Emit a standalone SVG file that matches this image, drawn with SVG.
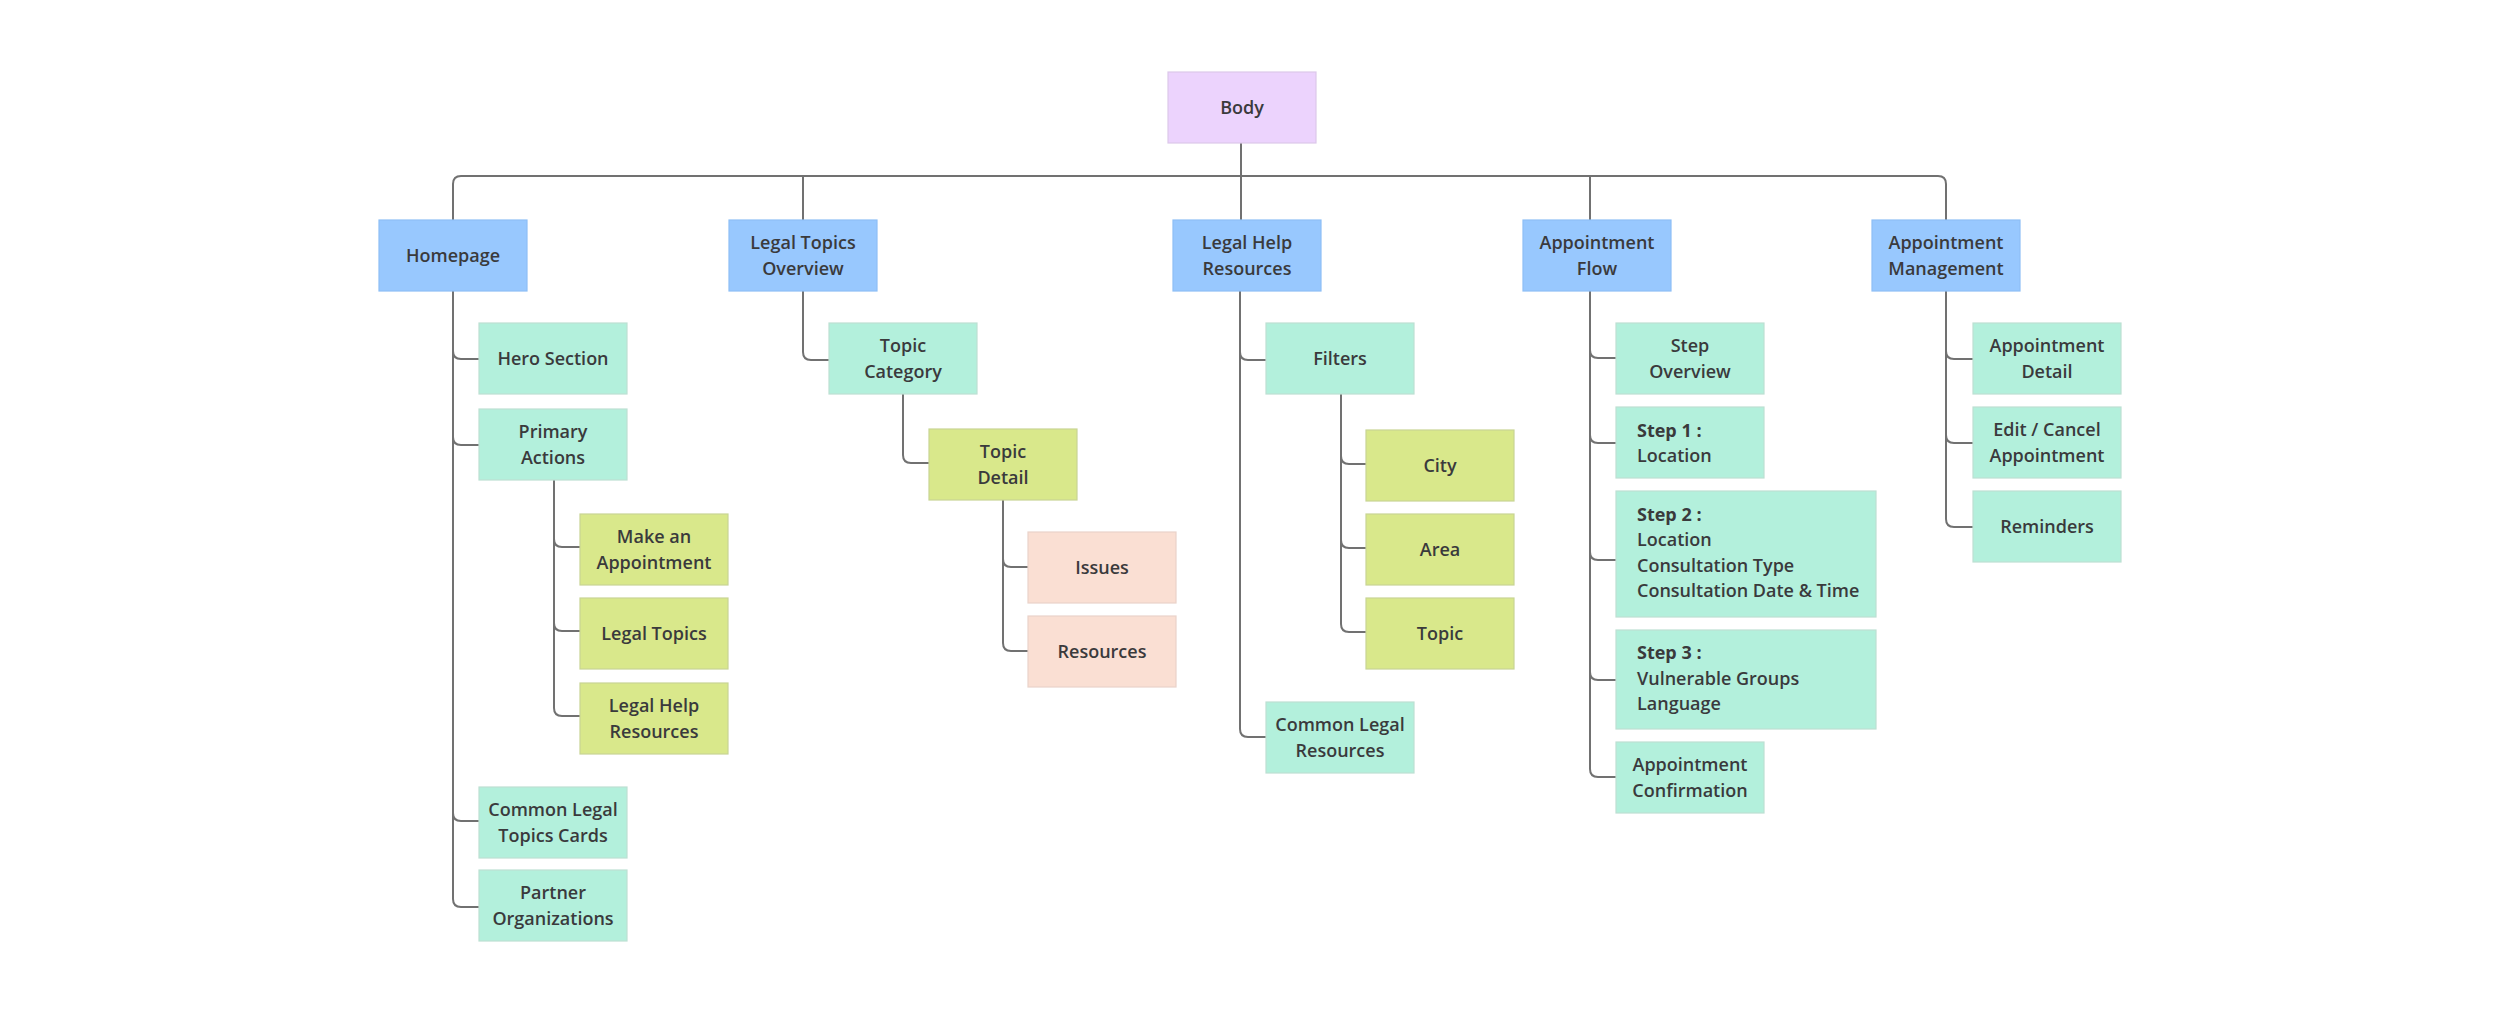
<svg xmlns="http://www.w3.org/2000/svg" width="2500" height="1014" viewBox="0 0 2500 1014">
<style>
  text { font-family: "Open Sans", "Liberation Sans", sans-serif; font-size: 18px; font-weight: 600; fill: #3a3a3c; }
  .c { text-anchor: middle; }
  .b { font-weight: 700; }
  .root { fill: #ecd3fd; stroke: #dcc8ea; stroke-width: 1.2; }
  .l1 { fill: #98c8fe; stroke: #8ebff5; stroke-width: 1.2; }
  .l2 { fill: #b3f0dc; stroke: #bddfd2; stroke-width: 1.2; }
  .l3 { fill: #d9e88b; stroke: #c8d494; stroke-width: 1.2; }
  .l4 { fill: #fadfd3; stroke: #e9d3ca; stroke-width: 1.2; }
  .conn path { fill: none; stroke: #717171; stroke-width: 2; }
</style>
<rect width="2500" height="1014" fill="#ffffff"/>

<g id="connectors" class="conn">
  <path d="M453,220 V184 Q453,176 461,176 H1938 Q1946,176 1946,184 V220"/>
  <path d="M1241,143 V220"/>
  <path d="M803,176 V220"/>
  <path d="M1590,176 V220"/>
  <path d="M453,291 V351 Q453,359 461,359 H479"/>
  <path d="M453,291 V437 Q453,445 461,445 H479"/>
  <path d="M453,291 V813 Q453,821 461,821 H479"/>
  <path d="M453,291 V899 Q453,907 461,907 H479"/>
  <path d="M554,480 V539 Q554,547 562,547 H580"/>
  <path d="M554,480 V623 Q554,631 562,631 H580"/>
  <path d="M554,480 V708 Q554,716 562,716 H580"/>
  <path d="M803,291 V352 Q803,360 811,360 H829"/>
  <path d="M903,394 V455 Q903,463 911,463 H929"/>
  <path d="M1003,500 V559 Q1003,567 1011,567 H1028"/>
  <path d="M1003,500 V643 Q1003,651 1011,651 H1028"/>
  <path d="M1240,291 V352 Q1240,360 1248,360 H1266"/>
  <path d="M1240,291 V729 Q1240,737 1248,737 H1266"/>
  <path d="M1341,394 V456 Q1341,464 1349,464 H1366"/>
  <path d="M1341,394 V540 Q1341,548 1349,548 H1366"/>
  <path d="M1341,394 V624 Q1341,632 1349,632 H1366"/>
  <path d="M1590,291 V350 Q1590,358 1598,358 H1616"/>
  <path d="M1590,291 V435 Q1590,443 1598,443 H1616"/>
  <path d="M1590,291 V552 Q1590,560 1598,560 H1616"/>
  <path d="M1590,291 V672 Q1590,680 1598,680 H1616"/>
  <path d="M1590,291 V769 Q1590,777 1598,777 H1616"/>
  <path d="M1946,291 V351 Q1946,359 1954,359 H1973"/>
  <path d="M1946,291 V435 Q1946,443 1954,443 H1973"/>
  <path d="M1946,291 V519 Q1946,527 1954,527 H1973"/>
</g>

<g id="body"><rect class="root" x="1168" y="72" width="148" height="71"/><text class="c" x="1242" y="114">Body</text></g>

<g id="homepage"><rect class="l1" x="379" y="220" width="148" height="71"/><text class="c" x="453" y="262">Homepage</text></g>
<g id="legal-topics-overview"><rect class="l1" x="729" y="220" width="148" height="71"/><text class="c" x="803" y="249.3">Legal Topics</text><text class="c" x="803" y="274.8">Overview</text></g>
<g id="legal-help-resources"><rect class="l1" x="1173" y="220" width="148" height="71"/><text class="c" x="1247" y="249.3">Legal Help</text><text class="c" x="1247" y="274.8">Resources</text></g>
<g id="appointment-flow"><rect class="l1" x="1523" y="220" width="148" height="71"/><text class="c" x="1597" y="249.3">Appointment</text><text class="c" x="1597" y="274.8">Flow</text></g>
<g id="appointment-management"><rect class="l1" x="1872" y="220" width="148" height="71"/><text class="c" x="1946" y="249.3">Appointment</text><text class="c" x="1946" y="274.8">Management</text></g>

<g id="hero-section"><rect class="l2" x="479" y="323" width="148" height="71"/><text class="c" x="553" y="365">Hero Section</text></g>
<g id="primary-actions"><rect class="l2" x="479" y="409" width="148" height="71"/><text class="c" x="553" y="438.3">Primary</text><text class="c" x="553" y="463.8">Actions</text></g>
<g id="make-appointment"><rect class="l3" x="580" y="514" width="148" height="71"/><text class="c" x="654" y="543.3">Make an</text><text class="c" x="654" y="568.8">Appointment</text></g>
<g id="hp-legal-topics"><rect class="l3" x="580" y="598" width="148" height="71"/><text class="c" x="654" y="640">Legal Topics</text></g>
<g id="hp-legal-help"><rect class="l3" x="580" y="683" width="148" height="71"/><text class="c" x="654" y="712.3">Legal Help</text><text class="c" x="654" y="737.8">Resources</text></g>
<g id="common-legal-topics-cards"><rect class="l2" x="479" y="787" width="148" height="71"/><text class="c" x="553" y="816.3">Common Legal</text><text class="c" x="553" y="841.8">Topics Cards</text></g>
<g id="partner-organizations"><rect class="l2" x="479" y="870" width="148" height="71"/><text class="c" x="553" y="899.3">Partner</text><text class="c" x="553" y="924.8">Organizations</text></g>

<g id="topic-category"><rect class="l2" x="829" y="323" width="148" height="71"/><text class="c" x="903" y="352.3">Topic</text><text class="c" x="903" y="377.8">Category</text></g>
<g id="topic-detail"><rect class="l3" x="929" y="429" width="148" height="71"/><text class="c" x="1003" y="458.3">Topic</text><text class="c" x="1003" y="483.8">Detail</text></g>
<g id="issues"><rect class="l4" x="1028" y="532" width="148" height="71"/><text class="c" x="1102" y="574">Issues</text></g>
<g id="resources"><rect class="l4" x="1028" y="616" width="148" height="71"/><text class="c" x="1102" y="658">Resources</text></g>

<g id="filters"><rect class="l2" x="1266" y="323" width="148" height="71"/><text class="c" x="1340" y="365">Filters</text></g>
<g id="city"><rect class="l3" x="1366" y="430" width="148" height="71"/><text class="c" x="1440" y="472">City</text></g>
<g id="area"><rect class="l3" x="1366" y="514" width="148" height="71"/><text class="c" x="1440" y="556">Area</text></g>
<g id="topic"><rect class="l3" x="1366" y="598" width="148" height="71"/><text class="c" x="1440" y="640">Topic</text></g>
<g id="common-legal-resources"><rect class="l2" x="1266" y="702" width="148" height="71"/><text class="c" x="1340" y="731.3">Common Legal</text><text class="c" x="1340" y="756.8">Resources</text></g>

<g id="step-overview"><rect class="l2" x="1616" y="323" width="148" height="71"/><text class="c" x="1690" y="352.3">Step</text><text class="c" x="1690" y="377.8">Overview</text></g>
<g id="step-1"><rect class="l2" x="1616" y="407" width="148" height="71"/><text class="b" x="1637" y="436.5">Step 1 :</text><text x="1637" y="462">Location</text></g>
<g id="step-2"><rect class="l2" x="1616" y="491" width="260" height="126"/><text class="b" x="1637" y="520.7">Step 2 :</text><text x="1637" y="546.2">Location</text><text x="1637" y="571.7">Consultation Type</text><text x="1637" y="597.2">Consultation Date &amp; Time</text></g>
<g id="step-3"><rect class="l2" x="1616" y="630" width="260" height="99"/><text class="b" x="1637" y="659">Step 3 :</text><text x="1637" y="684.5">Vulnerable Groups</text><text x="1637" y="710">Language</text></g>
<g id="appointment-confirmation"><rect class="l2" x="1616" y="742" width="148" height="71"/><text class="c" x="1690" y="771">Appointment</text><text class="c" x="1690" y="796.5">Confirmation</text></g>

<g id="appointment-detail"><rect class="l2" x="1973" y="323" width="148" height="71"/><text class="c" x="2047" y="352.3">Appointment</text><text class="c" x="2047" y="377.8">Detail</text></g>
<g id="edit-cancel-appointment"><rect class="l2" x="1973" y="407" width="148" height="71"/><text class="c" x="2047" y="436.3">Edit / Cancel</text><text class="c" x="2047" y="461.8">Appointment</text></g>
<g id="reminders"><rect class="l2" x="1973" y="491" width="148" height="71"/><text class="c" x="2047" y="533">Reminders</text></g>
</svg>
